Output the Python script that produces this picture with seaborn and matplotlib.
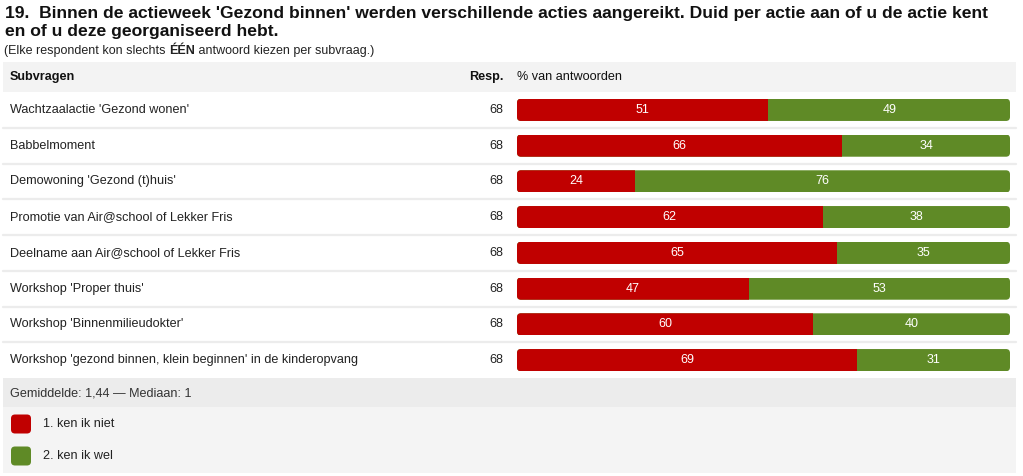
import matplotlib
matplotlib.use('Agg')
import matplotlib.pyplot as plt
import seaborn as sns
import pandas as pd
from matplotlib.patches import Rectangle, FancyBboxPatch

# Data
subvragen = [
    "Wachtzaalactie 'Gezond wonen'",
    "Babbelmoment",
    "Demowoning 'Gezond (t)huis'",
    "Promotie van Air@school of Lekker Fris",
    "Deelname aan Air@school of Lekker Fris",
    "Workshop 'Proper thuis'",
    "Workshop 'Binnenmilieudokter'",
    "Workshop 'gezond binnen, klein beginnen' in de kinderopvang",
]
resp = [68, 68, 68, 68, 68, 68, 68, 68]
ken_niet = [51, 66, 24, 62, 65, 47, 60, 69]
ken_wel = [49, 34, 76, 38, 35, 53, 40, 31]
legend_labels = ["1. ken ik niet", "2. ken ik wel"]

RED = '#c00000'
GREEN = '#5f8a26'

df = pd.DataFrame({'vraag': subvragen, 'niet': ken_niet, 'wel': ken_wel})
df['totaal'] = df['niet'] + df['wel']

sns.set_style('white')
plt.rcParams['font.family'] = ['Liberation Sans', 'DejaVu Sans']

W, H = 1023, 476
fig = plt.figure(figsize=(W / 100, H / 100), dpi=100)

# background axes in pixel coordinates
bg = fig.add_axes([0, 0, 1, 1])
bg.set_xlim(0, W)
bg.set_ylim(H, 0)
bg.axis('off')

TXT = '#222222'
FS = 9.1

bg.text(5, 18, "19.  Binnen de actieweek 'Gezond binnen' werden verschillende acties aangereikt. Duid per actie aan of u de actie kent",
        fontsize=12.6, fontweight='bold', va='baseline', color='#111111')
bg.text(5, 36, "en of u deze georganiseerd hebt.", fontsize=12.6, fontweight='bold', va='baseline', color='#111111')

# subtitle with a bold word in the middle
sub_y = H - 54
t1 = bg.annotate("(Elke respondent kon slechts ", xy=(4, sub_y), xycoords='figure pixels',
                 fontsize=9, va='baseline', color=TXT)
fig.canvas.draw()
t2 = bg.annotate("ÉÉN", xy=(t1.get_window_extent().x1, sub_y), xycoords='figure pixels',
                 fontsize=9, fontweight='bold', va='baseline', color=TXT)
fig.canvas.draw()
bg.annotate(" antwoord kiezen per subvraag.)", xy=(t2.get_window_extent().x1, sub_y),
            xycoords='figure pixels', fontsize=9, va='baseline', color=TXT)

# header band
top, row_h = 92, 35.75
bg.add_patch(Rectangle((3, 62), 1013, top - 62, color='#f3f3f3', lw=0))
bg.text(10, 77, "Subvragen", fontsize=FS, fontweight='bold', va='center', color='#111111')
bg.text(503, 77, "Resp.", fontsize=FS, fontweight='bold', va='center', ha='right', color='#111111')
bg.text(517, 77, "% van antwoorden", fontsize=FS, va='center', color='#111111')

for i, (q, r) in enumerate(zip(subvragen, resp)):
    yc = top + row_h * (i + 0.5)
    bg.text(10, yc, q, fontsize=FS, va='center', color=TXT)
    bg.text(503, yc, str(r), fontsize=FS, va='center', ha='right', color=TXT)
    if i > 0:
        bg.plot([3, 1016], [top + row_h * i] * 2, color='#ececec', lw=1.6)

bottom = top + row_h * len(subvragen)
bg.add_patch(Rectangle((3, bottom), 1013, 407 - bottom, color='#ececec', lw=0))
bg.add_patch(Rectangle((3, 407), 1013, 473 - 407, color='#f4f4f4', lw=0))
bg.text(10, 393, "Gemiddelde: 1,44 \u2014 Mediaan: 1", fontsize=FS, va='center', color='#333333')
for k, (lab, col) in enumerate(zip(legend_labels, [RED, GREEN])):
    yc = 424 + 32 * k
    bg.add_patch(FancyBboxPatch((11, yc - 9.5), 20, 19, boxstyle='round,pad=0,rounding_size=4',
                                fc=col, ec='none'))
    bg.text(43, yc, lab, fontsize=FS, va='center', color=TXT)

# bar axes
ax = fig.add_axes([517 / W, 1 - bottom / H, (1010 - 517) / W, (bottom - top) / H])
ax.patch.set_alpha(0)
bw = 0.62
sns.barplot(data=df, x='totaal', y='vraag', color=GREEN, width=bw, saturation=1,
            linewidth=0, ax=ax)
sns.barplot(data=df, x='niet', y='vraag', color=RED, width=bw, saturation=1,
            linewidth=0, ax=ax)
ax.set_xlim(0, 100)
ax.set_ylim(len(subvragen) - 0.5, -0.5)
ax.axis('off')

# rounded ends: clip each bar to a rounded rectangle spanning the full 0-100 row
px_x = (1010 - 517) / 100.0
px_y = row_h
for p in ax.patches:
    yc = p.get_y() + p.get_height() / 2
    clip = FancyBboxPatch((0, yc - bw / 2), 100, bw,
                          boxstyle='round,pad=0,rounding_size=%.3f' % (4 / px_x),
                          mutation_aspect=(4 / px_y) / (4 / px_x),
                          transform=ax.transData, fc='none', ec='none')
    p.set_clip_path(clip)

for i in range(len(subvragen)):
    ax.text(ken_niet[i] / 2, i, str(ken_niet[i]), ha='center', va='center', color='white', fontsize=9)
    ax.text(ken_niet[i] + ken_wel[i] / 2, i, str(ken_wel[i]), ha='center', va='center',
            color='white', fontsize=9)

fig.savefig('out.png', dpi=100)
